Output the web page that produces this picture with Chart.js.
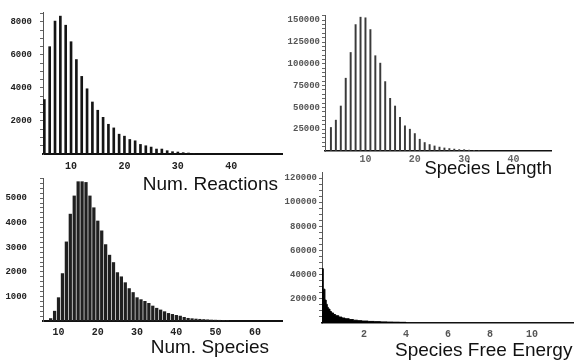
<!DOCTYPE html>
<html>
<head>
<meta charset="utf-8">
<script src="https://cdn.jsdelivr.net/npm/chart.js@4.4.1/dist/chart.umd.min.js"></script>
<style>
  body { margin: 0; background: #fff; }
  #wrap { position: relative; width: 574px; height: 362px; overflow: hidden; background: #fff; }
  canvas { position: absolute; }
  .name { position: absolute; font-family: 'Liberation Sans', Arial, sans-serif; color: #111; white-space: nowrap; line-height: 1; }
</style>
</head>
<body>
<div id="wrap">
  <canvas id="reactions" width="290" height="175" style="left:0;top:0"></canvas>
  <canvas id="length" width="290" height="175" style="left:284px;top:0"></canvas>
  <canvas id="species" width="290" height="187" style="left:0;top:175px"></canvas>
  <canvas id="energy" width="298" height="192" style="left:276px;top:170px"></canvas>

  <div class="name" style="font-size:19px; top:174px; right:296px;">Num. Reactions</div>
  <div class="name" style="font-size:18.5px; top:159px; right:22px;">Species Length</div>
  <div class="name" style="font-size:19px; top:337px; right:305px;">Num. Species</div>
  <div class="name" style="font-size:19px; top:340px; left:395px;">Species Free Energy</div>
</div>
<script>
// histogram values
const reactionBins = [5, 6, 7, 8, 9, 10, 11, 12, 13, 14, 15, 16, 17, 18, 19, 20, 21, 22, 23, 24, 25, 26, 27, 28, 29, 30, 31, 32, 33, 34];
const reactionCounts = [3300, 6500, 8050, 8350, 7800, 6800, 5720, 4700, 3950, 3150, 2650, 2220, 1800, 1580, 1200, 1080, 880, 800, 580, 500, 420, 300, 300, 200, 140, 120, 80, 60, 40, 20];
const reactionXTicks = [10, 20, 30, 40];
const reactionYTicks = [2000, 4000, 6000, 8000];

const lengthBins = [3, 4, 5, 6, 7, 8, 9, 10, 11, 12, 13, 14, 15, 16, 17, 18, 19, 20, 21, 22, 23, 24, 25, 26, 27, 28, 29, 30, 31, 32, 33];
const lengthCounts = [27000, 35400, 51600, 83500, 113000, 145000, 153500, 152800, 139300, 109300, 100800, 79600, 60400, 51600, 38500, 28900, 25000, 20000, 13500, 9700, 7400, 5800, 4500, 3500, 2800, 2200, 1600, 1500, 1000, 800, 500];
const lengthXTicks = [10, 20, 30, 40];
const lengthYTicks = [25000, 50000, 75000, 100000, 125000, 150000];

const speciesBins = [8, 9, 10, 11, 12, 13, 14, 15, 16, 17, 18, 19, 20, 21, 22, 23, 24, 25, 26, 27, 28, 29, 30, 31, 32, 33, 34, 35, 36, 37, 38, 39, 40, 41, 42, 43, 44, 45, 46, 47, 48, 49, 50, 51, 52, 53];
const speciesCounts = [100, 400, 950, 1930, 3220, 4350, 5090, 5670, 5670, 5640, 5090, 4610, 4070, 3670, 3110, 2680, 2380, 1970, 1800, 1560, 1320, 1160, 950, 870, 800, 720, 610, 520, 450, 380, 310, 270, 230, 200, 150, 110, 95, 80, 70, 60, 50, 40, 35, 30, 25, 20];
const speciesXTicks = [10, 20, 30, 40, 50, 60];
const speciesYTicks = [1000, 2000, 3000, 4000, 5000];

// free energy bins are uneven, each value holds until the next bin edge
const energyBins = [0, 0.06, 0.14, 0.2, 0.25, 0.3, 0.38, 0.45, 0.55, 0.65, 0.8, 0.95, 1.1, 1.3, 1.5, 1.7, 1.9, 2.2, 2.5, 2.8, 3.1, 3.4, 3.7, 4.0];
const energyCounts = [45000, 28000, 19000, 15500, 13000, 11500, 9500, 8300, 7000, 6000, 4900, 4100, 3500, 2800, 2300, 1900, 1600, 1300, 1100, 900, 750, 650, 550, 0];
const energyXTicks = [2, 4, 6, 8, 10];
const energyYTicks = [20000, 40000, 60000, 80000, 100000, 120000];

Chart.defaults.font.family = "'Liberation Mono', 'DejaVu Sans Mono', monospace";
Chart.defaults.font.weight = 'bold';
Chart.defaults.font.size = 9;
Chart.defaults.animation = false;
Chart.defaults.responsive = false;
Chart.defaults.plugins.legend.display = false;
Chart.defaults.plugins.tooltip.enabled = false;

// left axis: labelled ticks plus small unlabelled ticks every minorStep
function yAxis(max, labels, minorStep, width, pad, color) {
  return {
    type: 'linear',
    min: 0,
    max: max,
    afterBuildTicks: (scale) => {
      const ticks = [];
      for (let v = minorStep; v < max; v += minorStep) ticks.push({ value: v });
      scale.ticks = ticks;
    },
    afterFit: (scale) => {
      scale.width = width;
      scale.paddingTop = 0;
      scale.paddingBottom = 0;
    },
    grid: { drawOnChartArea: false, tickLength: 3, tickColor: '#666' },
    border: { color: '#555', width: 1 },
    ticks: {
      autoSkip: false,
      padding: pad,
      color: color,
      callback: (v) => labels.includes(v) ? String(v) : ''
    }
  };
}

function xAxis(min, max, labels, height, pad, color, lineWidth) {
  return {
    type: 'linear',
    min: min,
    max: max,
    offset: false,
    afterBuildTicks: (scale) => {
      scale.ticks = labels.map(v => ({ value: v }));
    },
    afterFit: (scale) => {
      scale.height = height;
      scale.paddingLeft = 0;
      scale.paddingRight = 0;
    },
    grid: { display: false, drawTicks: false, offset: false },
    border: { color: '#111', width: lineWidth },
    ticks: {
      autoSkip: false,
      maxRotation: 0,
      padding: pad,
      color: color,
      font: { size: 10 }
    }
  };
}

function histogram(id, bins, counts, color, thickness, x, y, padding) {
  const ctx = document.getElementById(id).getContext('2d');
  return new Chart(ctx, {
    type: 'bar',
    data: {
      datasets: [{
        data: bins.map((b, i) => ({ x: b, y: counts[i] })),
        backgroundColor: color,
        barThickness: thickness,
        borderWidth: 0
      }]
    },
    options: {
      layout: { padding: padding },
      scales: { x: x, y: y }
    }
  });
}

histogram('reactions', reactionBins, reactionCounts, '#151515', 2,
  xAxis(4.75, 49.5, reactionXTicks, 21, 6, '#222', 2),
  yAxis(8600, reactionYTicks, 500, 43, 8, '#222'),
  { top: 12, right: 8, left: 0, bottom: 0 });

histogram('length', lengthBins, lengthCounts, '#3a3a3a', 1.3,
  xAxis(1.8, 47.6, lengthXTicks, 24, 2, '#666', 1.5),
  yAxis(156000, lengthYTicks, 5000, 41, 2, '#555'),
  { top: 15, right: 23, left: 0, bottom: 0 });

histogram('species', speciesBins, speciesCounts, '#202020', 2.6,
  xAxis(6.05, 66.9, speciesXTicks, 41, 5, '#222', 2),
  yAxis(5820, speciesYTicks, 200, 43, 13, '#222'),
  { top: 3, right: 8, left: 0, bottom: 0 });

// free energy: filled step outline
new Chart(document.getElementById('energy').getContext('2d'), {
  type: 'line',
  data: {
    datasets: [{
      data: energyBins.map((b, i) => ({ x: b, y: energyCounts[i] })),
      stepped: true,
      fill: 'origin',
      backgroundColor: '#000',
      borderColor: '#000',
      borderWidth: 1,
      pointRadius: 0
    }]
  },
  options: {
    layout: { padding: { top: 2, right: 1, left: 0, bottom: 0 } },
    scales: {
      x: xAxis(0, 11.95, energyXTicks, 39, 5, '#555', 1.5),
      y: yAxis(125000, energyYTicks, 5000, 46, 2, '#555')
    }
  }
});
</script>
</body>
</html>
